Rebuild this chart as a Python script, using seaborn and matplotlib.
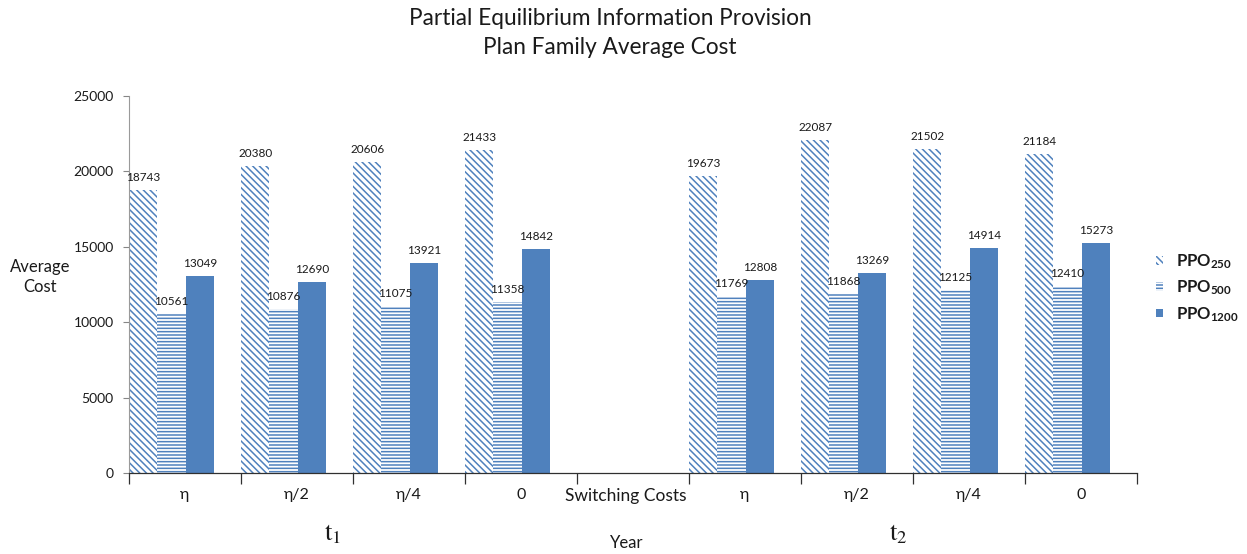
import matplotlib
matplotlib.use("Agg")
import matplotlib.pyplot as plt
import matplotlib.transforms as mtransforms
import seaborn as sns
import pandas as pd

# --- data -------------------------------------------------------------
cost_levels = ["η", "η/2", "η/4", "0"]
gap_label = "Switching Costs"
series = ["PPO250", "PPO500", "PPO1200"]
series_labels = [r"$\mathregular{PPO_{250}}$", r"$\mathregular{PPO_{500}}$",
                 r"$\mathregular{PPO_{1200}}$"]

ppo250_t1 = [18743, 20380, 20606, 21433]
ppo500_t1 = [10561, 10876, 11075, 11358]
ppo1200_t1 = [13049, 12690, 13921, 14842]

ppo250_t2 = [19673, 22087, 21502, 21184]
ppo500_t2 = [11769, 11868, 12125, 12410]
ppo1200_t2 = [12808, 13269, 14914, 15273]

periods = {"t1": (ppo250_t1, ppo500_t1, ppo1200_t1),
           "t2": (ppo250_t2, ppo500_t2, ppo1200_t2)}

slot_order = ([f"t1|{l}" for l in cost_levels] + [gap_label]
              + [f"t2|{l}" for l in cost_levels])
tick_labels = cost_levels + [gap_label] + cost_levels

rows = []
for period, vals in periods.items():
    for i, lvl in enumerate(cost_levels):
        for name, v in zip(series, vals):
            rows.append({"slot": f"{period}|{lvl}", "plan": name, "cost": float(v[i])})
df = pd.DataFrame(rows)
df["slot"] = pd.Categorical(df["slot"], categories=slot_order)

# --- style ------------------------------------------------------------
sns.set_theme(style="white")
plt.rcParams["font.family"] = ["Lato", "DejaVu Sans"]
plt.rcParams["hatch.linewidth"] = 1.1
blue = "#4F81BD"
text_color = "#1a1a1a"

fig = plt.figure(figsize=(12.47, 5.54), dpi=100)
ax = fig.add_axes([129 / 1247, 81 / 554, 1008 / 1247, 377 / 554])

sns.barplot(data=df, x="slot", y="cost", hue="plan",
            hue_order=series, palette={s: blue for s in series}, width=0.76,
            saturation=1, errorbar=None, legend=False, ax=ax)

hatches = ["\\\\\\\\\\", "-----", None]
for cont, h in zip(ax.containers, hatches):
    for bar in cont:
        if h is None:
            bar.set_facecolor(blue)
            bar.set_edgecolor(blue)
        else:
            bar.set_facecolor("white")
            bar.set_edgecolor(blue)
            bar.set_hatch(h)
        bar.set_linewidth(0)
    ax.bar_label(cont, labels=[f"{b.get_height():.0f}" for b in cont],
                 fontsize=8.5, padding=5, color=text_color)

# --- axes -------------------------------------------------------------
n = len(slot_order)
ax.set_xlim(-0.38, n - 0.38)
ax.set_ylim(0, 25000)
ax.set_yticks(range(0, 25001, 5000))
ax.tick_params(axis="y", labelsize=10, length=4, width=0.8, color="#868686",
               left=True, pad=7, labelcolor=text_color)

ax.set_xticks([i - 0.38 for i in range(n + 1)])
ax.set_xticklabels([])
ax.set_xticks([i + 0.12 for i in range(n)], minor=True)
ax.set_xticklabels(tick_labels, minor=True)
ax.tick_params(axis="x", which="major", length=8, width=0.9, color="#303030",
               bottom=True, direction="out")
ax.tick_params(axis="x", which="minor", length=0, pad=11, labelsize=11.5,
               labelcolor=text_color)
# the gap label is set a little larger and nudged left of its slot centre
shift_left = mtransforms.ScaledTranslation(-7 / 100, 0, fig.dpi_scale_trans)
for lab in ax.get_xticklabels(minor=True):
    if lab.get_text() == gap_label:
        lab.set_fontsize(12.5)
        lab.set_transform(lab.get_transform() + shift_left)

for s in ["top", "right"]:
    ax.spines[s].set_visible(False)
ax.spines["left"].set_color("#9a9a9a")
ax.spines["left"].set_linewidth(0.8)
ax.spines["bottom"].set_color("#303030")
ax.spines["bottom"].set_linewidth(0.9)

ax.set_xlabel("")
ax.set_ylabel("")

# --- legend -----------------------------------------------------------
handles = [ax.containers[i][0] for i in range(3)]
leg = fig.legend(handles, series_labels, loc="center left",
                 bbox_to_anchor=(1148 / 1247, 1 - 288 / 554), frameon=False,
                 handlelength=0.4, handleheight=0.4, handletextpad=0.8,
                 labelspacing=0.45, borderpad=0,
                 prop={"size": 12, "weight": "bold"})
for t in leg.get_texts():
    t.set_color(text_color)

# --- text -------------------------------------------------------------
fig.text(610 / 1247, 1 - 8 / 554,
         "Partial Equilibrium Information Provision\nPlan Family Average Cost",
         ha="center", va="top", fontsize=16.3, linespacing=1.5, color=text_color)
fig.text(40 / 1247, 1 - 277 / 554, "Average\nCost", ha="center", va="center",
         fontsize=12, linespacing=1.3, color=text_color)
fig.text(627 / 1247, 1 - 543 / 554, "Year", ha="center", va="center",
         fontsize=12, color=text_color)
fig.text(333 / 1247, 1 - 533 / 554, r"$\mathrm{t}_1$", ha="center", va="center",
         fontsize=19, math_fontfamily="stix", color=text_color)
fig.text(898 / 1247, 1 - 533 / 554, r"$\mathrm{t}_2$", ha="center", va="center",
         fontsize=19, math_fontfamily="stix", color=text_color)

fig.savefig("out.png", dpi=100, facecolor="white")
